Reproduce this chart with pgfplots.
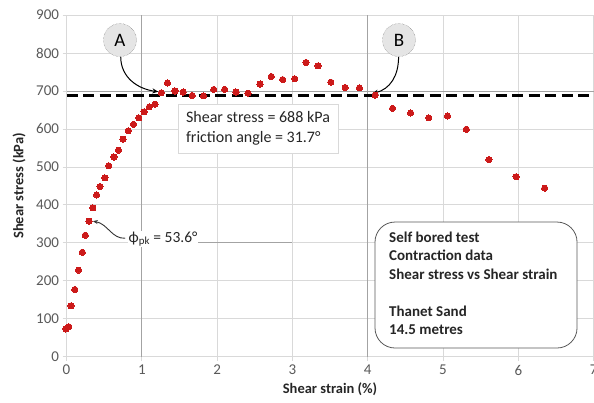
\documentclass[border=0pt]{standalone}
\usepackage{pgfplots}
\pgfplotsset{compat=1.18}
\usepackage{fontspec}
\setmainfont{Carlito}
\usetikzlibrary{arrows.meta}
\definecolor{gridc}{HTML}{D9D9D9}
\definecolor{darkl}{HTML}{A3A3A3}
\definecolor{ptred}{HTML}{CC1A1A}
\definecolor{tickc}{HTML}{595959}
\begin{document}
\begin{tikzpicture}
\begin{axis}[
  scale only axis, width=527.1bp, height=341.7bp,
  xmin=0, xmax=7, ymin=0, ymax=900,
  xtick={0,1,...,7}, ytick={0,100,...,900},
  grid=major, major grid style={gridc, line width=0.7bp},
  axis line style={gridc, line width=0.7bp},
  tick style={gridc, line width=0.7bp}, major tick length=4bp, tick align=outside,
  xtick pos=bottom, ytick pos=left,
  ticklabel style={font=\fontsize{15bp}{17bp}\selectfont, text=tickc},
  xticklabel style={yshift=-1bp},
  /pgf/number format/assume math mode=true,
  xlabel={Shear strain (\%)}, ylabel={Shear stress (kPa)},
  xlabel style={at={(axis description cs:0.5,-0.0937)}, anchor=center, font=\bfseries\fontsize{14.5bp}{16bp}\selectfont, text=black!85},
  ylabel style={at={(axis description cs:-0.0901,0.5)}, anchor=center, font=\bfseries\fontsize{14.5bp}{16bp}\selectfont, text=black!85},
  clip=false,
]
% darker reference lines
\draw[darkl, line width=0.8bp] (axis cs:1,0) -- (axis cs:1,900);
\draw[darkl, line width=0.8bp] (axis cs:4,0) -- (axis cs:4,900);
\draw[darkl, line width=0.8bp] (axis cs:0,700) -- (axis cs:7,700);
\draw[darkl, line width=0.8bp] (axis cs:1.71,300) -- (axis cs:3,300);

% dashed line
\addplot[black, line width=2.4bp, dash pattern=on 11bp off 5.5bp, forget plot] coordinates {(0,688) (7,688)};

% data
\addplot[only marks, mark=*, mark size=3.1bp, mark options={fill=ptred, draw=ptred, line width=0pt}] coordinates {
(-0.01,73) (0.03,79) (0.06,134) (0.11,177) (0.16,228) (0.21,275) (0.25,320) (0.30,357)
(0.35,392) (0.40,426) (0.445,448) (0.51,471) (0.56,503) (0.63,526) (0.69,544) (0.75,573)
(0.82,595) (0.89,612) (0.96,629) (1.03,645) (1.10,658) (1.175,665) (1.26,695) (1.34,721)
(1.44,700) (1.55,697) (1.67,688) (1.82,687) (1.955,704) (2.10,704) (2.25,697) (2.41,694)
(2.57,718) (2.72,738) (2.87,730) (3.03,732) (3.18,775) (3.34,766) (3.51,723) (3.70,709)
(3.89,708) (4.10,689) (4.33,654) (4.57,642) (4.81,629) (5.06,634) (5.31,599) (5.61,519)
(5.97,474) (6.35,444)
};

% text box
\draw[gridc, fill=white, line width=0.8bp] (axis cs:1.48,536) rectangle (axis cs:3.61,665.5);
\node[anchor=west, inner sep=0pt, font=\fontsize{16bp}{19.5bp}\selectfont, text=black!85, align=left] at (axis cs:1.585,601) {Shear stress = 688 kPa\\friction angle = 31.7°};

% A and B
\node[circle, draw=black!60, densely dotted, fill=black!10, minimum size=33bp, inner sep=0pt, font=\fontsize{19bp}{20bp}\selectfont] at (axis cs:0.71,834) {A};
\node[circle, draw=black!60, densely dotted, fill=black!10, minimum size=33bp, inner sep=0pt, font=\fontsize{19bp}{20bp}\selectfont] at (axis cs:4.415,834) {B};
\draw[black, line width=1bp, -{Stealth[length=6bp,width=5bp]}] (axis cs:0.72,790) .. controls (axis cs:0.72,735) and (axis cs:0.95,705) .. (axis cs:1.22,698);
\draw[black, line width=1bp, -{Stealth[length=6bp,width=5bp]}] (axis cs:4.41,790) .. controls (axis cs:4.41,740) and (axis cs:4.30,705) .. (axis cs:4.06,693);

% phi annotation
\node[anchor=west, fill=white, inner sep=1pt, font=\fontsize{15.5bp}{17bp}\selectfont, text=black!85] at (axis cs:0.81,310) {ϕ\textsubscript{pk} = 53.6°};
\draw[black!80, line width=0.9bp, -{Stealth[length=5bp,width=4bp]}] (axis cs:0.78,312) .. controls (axis cs:0.60,310) and (axis cs:0.55,350) .. (axis cs:0.35,357);

% info box
\draw[black!65, fill=white, line width=0.8bp, rounded corners=20bp] (axis cs:4.097,22.9) rectangle (axis cs:6.78,354.7);
\node[anchor=north west, inner sep=0pt, align=left, font=\bfseries\fontsize{15bp}{18.5bp}\selectfont, text=black!85] at (axis cs:4.283,330) {Self bored test\\Contraction data\\Shear stress vs Shear strain\\[18.5bp]Thanet Sand\\14.5 metres};
\end{axis}
\pgfresetboundingbox
\path (current axis.south west) ++(-66.5bp,-45.3bp) coordinate (bl);
\path (current axis.north east) ++(0.4bp,15bp) coordinate (tr);
\useasboundingbox (bl) rectangle (tr);
\end{tikzpicture}
\end{document}
